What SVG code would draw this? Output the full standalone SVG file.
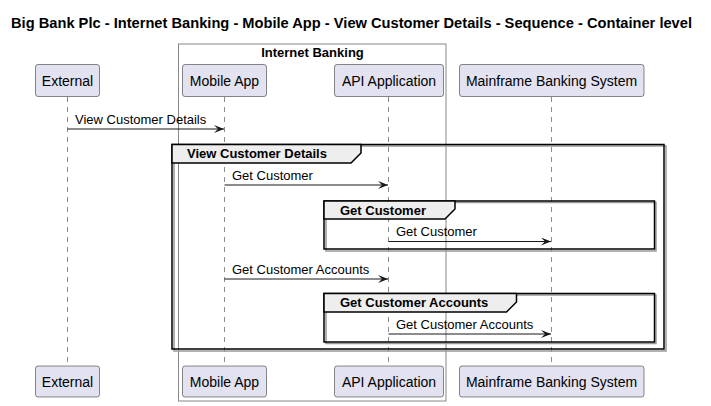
<svg xmlns="http://www.w3.org/2000/svg" width="711" height="406" viewBox="0 0 711 406">
<defs>
<style>
text{font-family:"Liberation Sans",Arial,sans-serif;fill:#000}
.title{font-size:14px;font-weight:bold}
.pt{font-size:14px;text-anchor:middle}
.msg{font-size:13px}
.ft{font-size:13px;font-weight:bold}
.part{fill:#E2E2F0;stroke:#181818;stroke-width:0.5}
.life{stroke:#181818;stroke-width:0.5;stroke-dasharray:5,5;fill:none}
.arrow{stroke:#181818;stroke-width:1;fill:none}
.frame{fill:none;stroke:#000;stroke-width:1.5}
.shadow{fill:none;stroke:#999;stroke-width:1.5}
.tab{fill:#EEEEEE;stroke:#000;stroke-width:1.5}
</style>
<marker id="ah" viewBox="0 0 10 8" refX="10" refY="4" markerWidth="10" markerHeight="8" markerUnits="userSpaceOnUse" orient="auto">
<polygon points="0,0 10,4 0,8 4,4" fill="#181818"/>
</marker>
</defs>
<rect width="711" height="406" fill="#fff"/>
<text class="title" x="11" y="28" textLength="681" lengthAdjust="spacingAndGlyphs">Big Bank Plc - Internet Banking - Mobile App - View Customer Details - Sequence - Container level</text>

<g id="box-internet-banking">
<rect x="178.5" y="44" width="267.5" height="357" fill="none" stroke="#888" stroke-width="1"/>
<text class="ft" x="312.5" y="57" text-anchor="middle">Internet Banking</text>
</g>

<g id="lifelines">
<line class="life" x1="67.5" y1="97" x2="67.5" y2="366"/>
<line class="life" x1="224.5" y1="97" x2="224.5" y2="366"/>
<line class="life" x1="388.5" y1="97" x2="388.5" y2="366"/>
<line class="life" x1="551.5" y1="97" x2="551.5" y2="366"/>
</g>

<g id="frame-view-customer-details">
<rect class="shadow" x="174" y="146" width="492" height="205"/>
<rect class="frame" x="172" y="144.5" width="492" height="204.5"/>
<polygon class="tab" points="172,144.5 361,144.5 361,153 351,163 172,163"/>
<text class="ft" x="187" y="158">View Customer Details</text>
</g>

<g id="frame-get-customer">
<rect class="shadow" x="326" y="202.5" width="330" height="48.5"/>
<rect class="frame" x="324" y="201" width="330.5" height="48"/>
<polygon class="tab" points="324,201 455,201 455,209 445,219 324,219"/>
<text class="ft" x="340" y="215">Get Customer</text>
</g>

<g id="frame-get-customer-accounts">
<rect class="shadow" x="326" y="295" width="330" height="48.5"/>
<rect class="frame" x="324" y="293.5" width="330.5" height="48.5"/>
<polygon class="tab" points="324,293.5 516.5,293.5 516.5,302 506.5,312 324,312"/>
<text class="ft" x="340" y="307">Get Customer Accounts</text>
</g>

<g id="connectors">
<line class="arrow" x1="67.5" y1="129" x2="224" y2="129" marker-end="url(#ah)"/>
<text class="msg" x="75" y="124">View Customer Details</text>
<line class="arrow" x1="224.5" y1="185" x2="388" y2="185" marker-end="url(#ah)"/>
<text class="msg" x="232" y="180">Get Customer</text>
<line class="arrow" x1="388.5" y1="241.5" x2="551" y2="241.5" marker-end="url(#ah)"/>
<text class="msg" x="396" y="236">Get Customer</text>
<line class="arrow" x1="224.5" y1="279" x2="388" y2="279" marker-end="url(#ah)"/>
<text class="msg" x="232" y="274">Get Customer Accounts</text>
<line class="arrow" x1="388.5" y1="334" x2="551" y2="334" marker-end="url(#ah)"/>
<text class="msg" x="396" y="329">Get Customer Accounts</text>
</g>

<g id="external">
<rect class="part" x="35.5" y="64.5" width="64" height="32" rx="2.5"/>
<text class="pt" x="67.5" y="86">External</text>
<rect class="part" x="35.5" y="366" width="64" height="31" rx="2.5"/>
<text class="pt" x="67.5" y="387">External</text>
</g>
<g id="mobile-app">
<rect class="part" x="182.5" y="64.5" width="84" height="32" rx="2.5"/>
<text class="pt" x="224.5" y="86">Mobile App</text>
<rect class="part" x="182.5" y="366" width="84" height="31" rx="2.5"/>
<text class="pt" x="224.5" y="387">Mobile App</text>
</g>
<g id="api-application">
<rect class="part" x="334.5" y="64.5" width="109" height="32" rx="2.5"/>
<text class="pt" x="389" y="86">API Application</text>
<rect class="part" x="334.5" y="366" width="109" height="31" rx="2.5"/>
<text class="pt" x="389" y="387">API Application</text>
</g>
<g id="mainframe-banking-system">
<rect class="part" x="459.5" y="64.5" width="184.5" height="32" rx="2.5"/>
<text class="pt" x="551.5" y="86">Mainframe Banking System</text>
<rect class="part" x="459.5" y="366" width="184.5" height="31" rx="2.5"/>
<text class="pt" x="551.5" y="387">Mainframe Banking System</text>
</g>
</svg>
